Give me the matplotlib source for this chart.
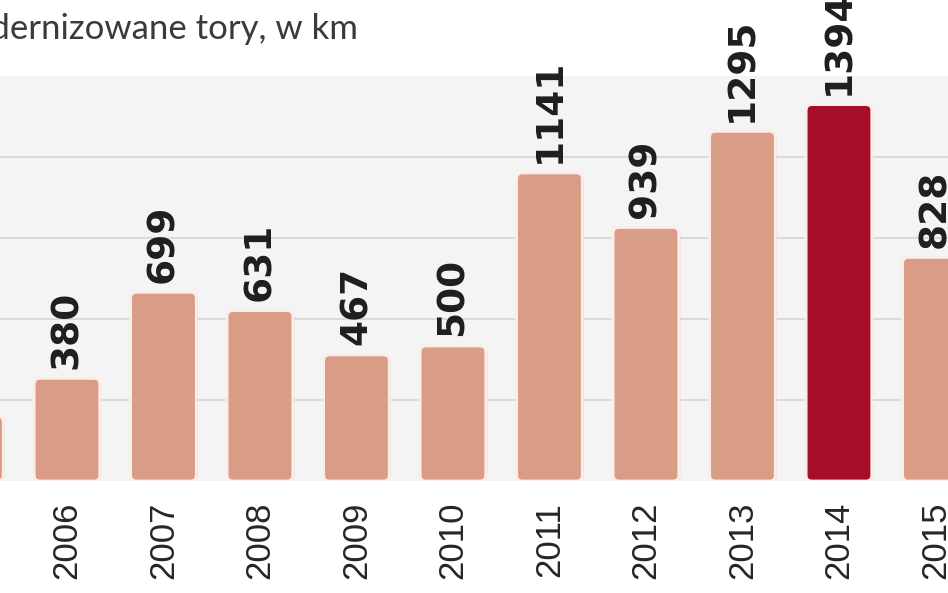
import matplotlib
matplotlib.use("Agg")
import matplotlib.pyplot as plt
from matplotlib.patches import FancyBboxPatch

# Zmodernizowane tory, w km (first bar and title start are cut off in the source)
years = ['2005', '2006', '2007', '2008', '2009', '2010',
         '2011', '2012', '2013', '2014', '2015']
km = [240, 380, 699, 631, 467, 500, 1141, 939, 1295, 1394, 828]
highlight = '2014'

bar_color = '#D99C87'
hi_color = '#A50E27'

fig = plt.figure(figsize=(9.48, 5.93), dpi=100)
ax = fig.add_axes([0, 1 - 481 / 593, 1, (481 - 76) / 593])
ax.set_facecolor('#F4F4F4')

x = list(range(len(years)))

# grid
for g in [300, 600, 900, 1200]:
    ax.axhline(g, color='#D8D8D8', lw=1.3, zorder=1)

bars = ax.bar(x, km, width=0.68, color='none', edgecolor='none')

ax.set_xticks(x)
ax.set_xticklabels(years, rotation=90, fontsize=25, color='#262626',
                   family=['Liberation Sans', 'DejaVu Sans'])
ax.tick_params(axis='x', length=0, pad=15)
ax.set_yticks([])
# limits after ticks, set_xticks would widen them
ax.set_xlim(0.306, 10.13)
ax.set_ylim(0, 1500)
for s in ax.spines.values():
    s.set_visible(False)

# rounded bars with pale edge and soft shadow
ppx = 1 / 96.5            # data units per pixel in x
ppy = 1500 / (481 - 76)   # data units per pixel in y
aspect = ppy / ppx
for b, yr in zip(bars, years):
    bx, by = b.get_x(), b.get_y()
    bw, bh = b.get_width(), b.get_height()
    col = hi_color if yr == highlight else bar_color
    shadow = FancyBboxPatch((bx + 1.5 * ppx, by), bw, bh - 1.5 * ppy,
                            boxstyle='round,pad=0,rounding_size=0.06',
                            mutation_aspect=aspect, fc='#BDBDBD', ec='none',
                            alpha=0.6, zorder=2, clip_on=False)
    ax.add_patch(shadow)
    p = FancyBboxPatch((bx, by), bw, bh,
                       boxstyle='round,pad=0,rounding_size=0.06',
                       mutation_aspect=aspect, fc=col, ec='#FCEDE6',
                       lw=2, zorder=3)
    ax.add_patch(p)
    ax.annotate(str(b.get_height()), (b.get_x() + bw / 2, bh),
                xytext=(0, 7), textcoords='offset points',
                rotation=90, ha='center', va='bottom',
                fontsize=27, fontweight='bold', color='#1E1E1E',
                family=['Liberation Sans Narrow', 'DejaVu Sans'],
                annotation_clip=False, zorder=4)

fig.text(358 / 948, 1 - 29 / 593, 'Zmodernizowane tory, w km',
         ha='right', va='center', fontsize=25, color='#3A3A3A',
         family=['Lato', 'DejaVu Sans'])

fig.savefig('out.png', dpi=100, facecolor='white')
